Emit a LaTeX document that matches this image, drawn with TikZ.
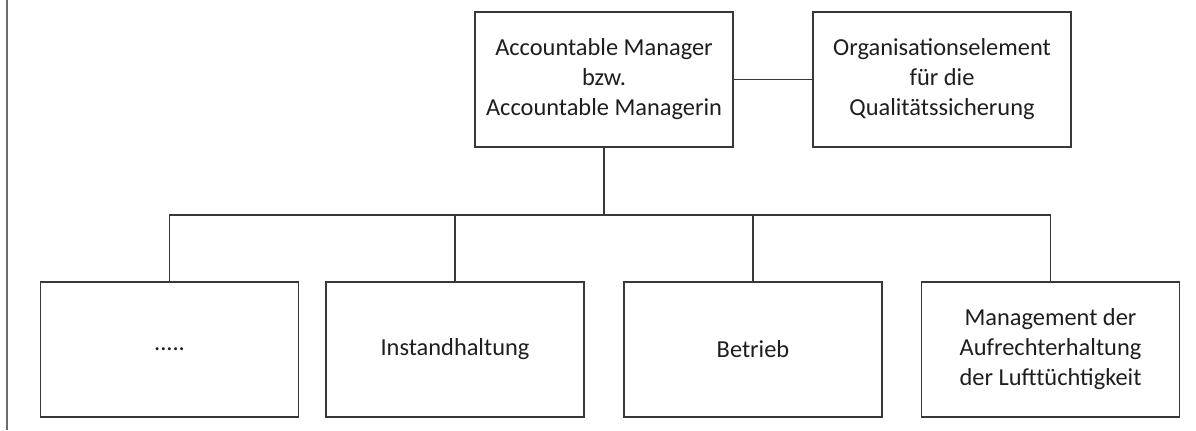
\documentclass[tikz,border=0pt]{standalone}
\usepackage{fontspec}
\setmainfont{Carlito}
\definecolor{linegray}{HTML}{383838}
\definecolor{framegray}{HTML}{6B6B6B}
\definecolor{textgray}{HTML}{1E1E1E}
\begin{document}
\begin{tikzpicture}[x=0.75pt,y=-0.75pt,
  orgbox/.style={draw=linegray, line width=1pt, fill=white, minimum width=193.5pt, minimum height=101.25pt,
    align=center, inner sep=0pt, text=textgray, font=\fontsize{18.3pt}{22.5pt}\selectfont},
  conn/.style={draw=linegray, line width=1pt}]
\useasboundingbox (0,0) rectangle (1196,430);
\fill[white] (0,0) rectangle (1196,430);
\draw[framegray, line width=1.5pt] (7,0) -- (7,430);
\node[orgbox] (am) at (604,79.5) {Accountable Manager\\bzw.\\Accountable Managerin};
\node[orgbox] (qs) at (942,79.5) {Organisationselement\\für die\\Qualitätssicherung};
\node[orgbox] (b1) at (169.5,349.5) {.....};
\node[orgbox] (b2) at (455,349.5) {Instandhaltung};
\node[orgbox] (b3) at (753,349.5) {Betrieb};
\node[orgbox] (b4) at (1050.5,349.5) {Management der\\Aufrechterhaltung\\der Lufttüchtigkeit};
\coordinate (bus) at (604,215);
\draw[conn] (am.east) -- (qs.west);
\draw[conn] (am.south) -- (bus);
\draw[conn] (bus) -| (b1.north);
\draw[conn] (bus) -| (b2.north);
\draw[conn] (bus) -| (b3.north);
\draw[conn] (bus) -| (b4.north);
\end{tikzpicture}
\end{document}
